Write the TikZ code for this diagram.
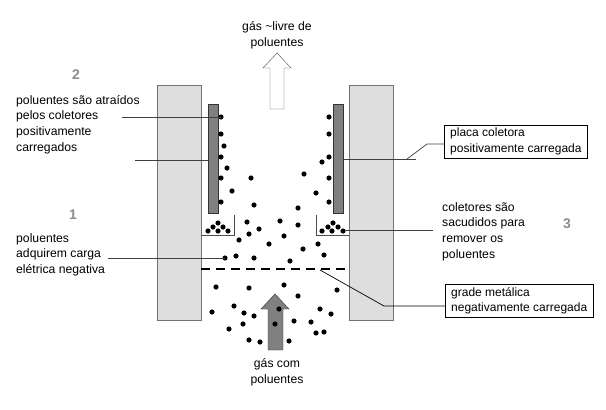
\documentclass[tikz,border=0pt]{standalone}
\usepackage{fontspec}
\setmainfont{Liberation Sans}
\begin{document}
\begin{tikzpicture}[x=1pt,y=-1pt,
  txt/.style={font=\fontsize{12.2}{15.8}\selectfont,align=left,inner sep=0pt},
  num/.style={font=\fontsize{14}{16}\selectfont\bfseries,text=black!45},
  lbox/.style={draw,font=\fontsize{12}{15.5}\selectfont,align=left,inner xsep=6pt,inner ysep=3pt,minimum width=142pt},
  lead/.style={draw=black!75,line width=0.7pt},
  wall/.style={fill=black!13,draw=black!55,line width=0.8pt},
  plate/.style={fill=black!50,draw=black!80,line width=0.6pt}]
\useasboundingbox (0,0) rectangle (606,410);
% walls and plates
\draw[wall] (157,85) rectangle (201,320);
\draw[wall] (349,85) rectangle (393,320);
\draw[plate] (208,104) rectangle (218,213);
\draw[plate] (333,104) rectangle (343,213);
\draw[black!70] (234,215)--(234,235)--(201,235);
\draw[black!70] (316,215)--(316,235)--(349,235);
\draw[line width=2pt,dash pattern=on 9pt off 6pt] (201,269)--(349,269);
% arrows
\draw[black!70,fill=white] (270,109)--(270,68)--(263,68)--(277,53)--(291,68)--(284,68)--(284,109)--cycle;
\draw[black!80,fill=black!50] (268,350)--(268,309)--(261,309)--(275,294)--(289,309)--(283,309)--(283,350)--cycle;
% dots
\foreach \p in {(221,117),(221,134),(224,146),(221,157),(227,168),(221,178),(232,191),(221,202),
  (329,117),(329,134),(329,157),(322,162),(329,178),(316,193),(329,202),(304,174),
  (251,178),(254,205),(298,208),(247,222),(259,229),(249,234),(239,240),(280,221),(298,225),
  (284,236),(269,244),(318,244),(303,249),(324,255),(225,258),(236,256),(254,258),(290,261),
  (208,231),(218,231),(228,231),(213,227),(223,227),(218,223),
  (322,231),(332,231),(343,231),(328,227),(338,227),(333,223),
  (216,287),(249,288),(284,285),(298,296),(337,290),(212,312),(234,306),(244,313),(254,316),
  (279,309),(275,324),(294,321),(311,322),(320,309),(331,314),(229,329),(243,324),(249,340),
  (260,342),(289,341),(316,333),(324,332)}
  \fill \p circle (2.6);
% texts
\node[txt,align=center] (topgas) at (277,35) {gás \textasciitilde livre de\\poluentes};
\node[txt,align=center] (botgas) at (277,372) {gás com\\poluentes};
\node[num] (n2) at (76,75) {2};
\node[num] (n1) at (73,215) {1};
\node[num] (n3) at (567,224) {3};
\node[txt,anchor=north west] (atrai) at (16,95) {poluentes são atraídos\\pelos coletores\\positivamente\\carregados};
\node[txt,anchor=north west] (carga) at (16,233) {poluentes\\adquirem carga\\elétrica negativa};
\node[txt,anchor=north west] (sacud) at (442,202) {coletores são\\sacudidos para\\remover os\\poluentes};
\node[lbox,anchor=north west] (placa) at (444,125) {placa coletora\\positivamente carregada};
\node[lbox,anchor=north west] (grade) at (445,284) {grade metálica\\negativamente carregada};
% leaders
\draw[lead] (122,117)--(221,117);
\draw[lead] (135,160)--(208,160);
\draw[lead] (108,258)--(225,258);
\draw[lead] (343,159)--(416,159);
\draw[lead] (407,159)--(427,144)--(placa.west|-0,144);
\draw[lead] (345,230)--(433,230);
\draw[lead,black] (320,270)--(384,306)--(grade.west|-0,306);
\end{tikzpicture}
\end{document}
